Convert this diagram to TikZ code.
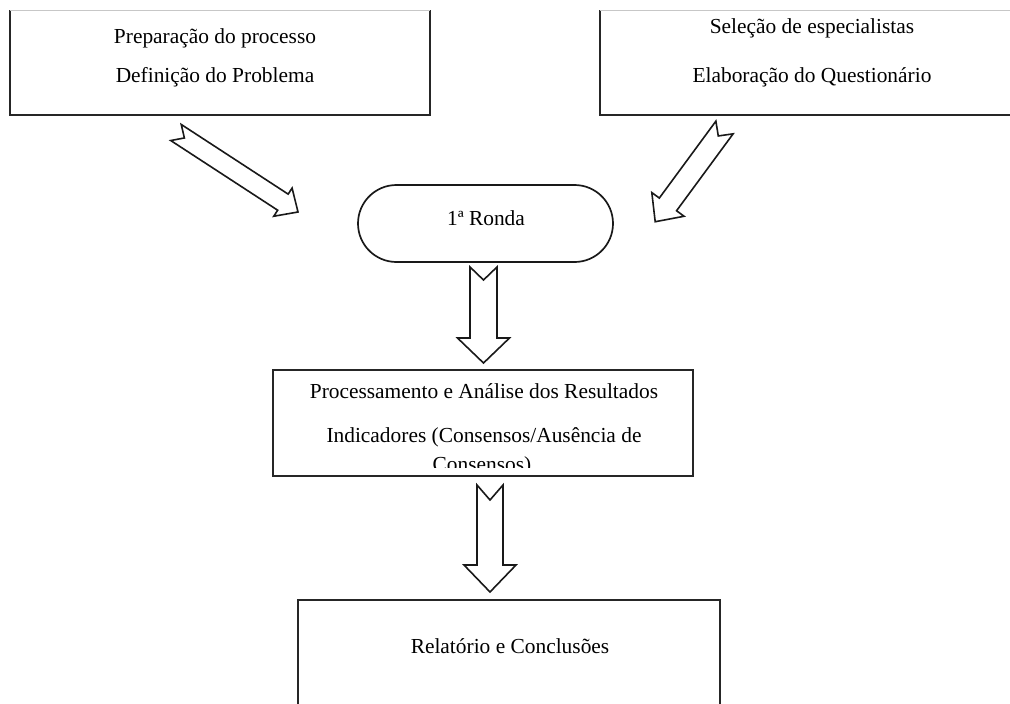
\documentclass[tikz,border=0pt]{standalone}
\usepackage{fontspec}
\setmainfont{Liberation Serif}
\usetikzlibrary{calc}
\newcommand{\blockarrow}[6]{% #1 tail, #2 tip, #3 half shaft, #4 half head, #5 head length, #6 notch depth
  \path let \p1=(#1), \p2=(#2) in \pgfextra{%
    \pgfmathsetmacro\baang{atan2(\y2-\y1,\x2-\x1)}%
    \pgfmathsetmacro\balen{veclen(\x2-\x1,\y2-\y1)}%
    \xdef\BAang{\baang}\xdef\BAlen{\balen}};
  \draw[blockar,shift={(#1)},rotate=\BAang]
    (0,#3) -- ({\BAlen-#5},#3) -- ({\BAlen-#5},#4) -- (\BAlen,0)
    -- ({\BAlen-#5},-#4) -- ({\BAlen-#5},-#3) -- (0,-#3) -- (#6,0) -- cycle;
}
\begin{document}
\begin{tikzpicture}[x=1pt,y=-1pt,
  boxline/.style={draw=black!85,line width=1.8pt},
  topline/.style={draw=black!22,line width=0.9pt},
  blockar/.style={draw=black!90,line width=1.6pt,line join=miter,fill=white},
  txt/.style={font=\fontsize{21.4}{24}\selectfont,inner sep=0pt,anchor=base,text=black},
  frame/.style={inner sep=0pt,outer sep=0pt}]
\useasboundingbox (0,0) rectangle (1010,704);
\clip (0,0) rectangle (1010,704);
\fill[white] (0,0) rectangle (1010,704);

% box 1
\node[frame,minimum width=420pt,minimum height=105pt] (b1) at (220,62.5) {};
\draw[boxline] (b1.north west) -- (b1.south west) -- (b1.south east) -- (b1.north east);
\draw[topline] (b1.north west) -- (b1.north east);
\node[txt] (t1a) at (215,43) {Preparação do processo};
\node[txt] (t1b) at (215,82) {Definição do Problema};

% box 2
\node[frame,minimum width=430pt,minimum height=105pt] (b2) at (815,62.5) {};
\draw[boxline] (b2.north west) -- (b2.south west) -- (b2.south east);
\draw[topline] (b2.north west) -- (b2.north east);
\node[txt] (t2a) at (812,33) {Seleção de especialistas};
\node[txt] (t2b) at (812,82) {Elaboração do Questionário};

% round 1
\node[frame,draw=black!90,line width=1.7pt,rounded corners=38.5pt,
      minimum width=255pt,minimum height=77pt] (r1) at (485.5,223.5) {};
\node[txt] (rt) at (486,225) {1ª Ronda};

% box 3
\node[frame,boxline,minimum width=420pt,minimum height=106pt] (b3) at (483,423) {};
\node[txt] (t3a) at (484,398) {Processamento e Análise dos Resultados};
\node[txt] (t3b) at (484,442) {Indicadores (Consensos/Ausência de};
\begin{scope}
  \clip (b3.north west) rectangle ($(b3.south east)+(0,-9)$);
  \node[txt] (t3c) at (482,471) {Consensos)};
\end{scope}

% box 4
\node[frame,boxline,minimum width=422pt,minimum height=130pt] (b4) at (509,665) {};
\node[txt] (t4) at (510,653) {Relatório e Conclusões};

% arrows
\coordinate (a1s) at (176,132.5);
\coordinate (a1e) at (298,212);
\coordinate (a2s) at (724.5,127.5);
\coordinate (a2e) at (655,222);
\coordinate (a3s) at (483.5,267);
\coordinate (a3e) at (483.5,363);
\coordinate (a4s) at (490,485);
\coordinate (a4e) at (490,592);
\blockarrow{a1s}{a1e}{9.6}{16.8}{18}{10}
\blockarrow{a2s}{a2e}{10.7}{20}{21.5}{10.5}
\blockarrow{a3s}{a3e}{13.5}{26}{25}{13}
\blockarrow{a4s}{a4e}{13}{26}{27}{15}
\end{tikzpicture}
\end{document}
